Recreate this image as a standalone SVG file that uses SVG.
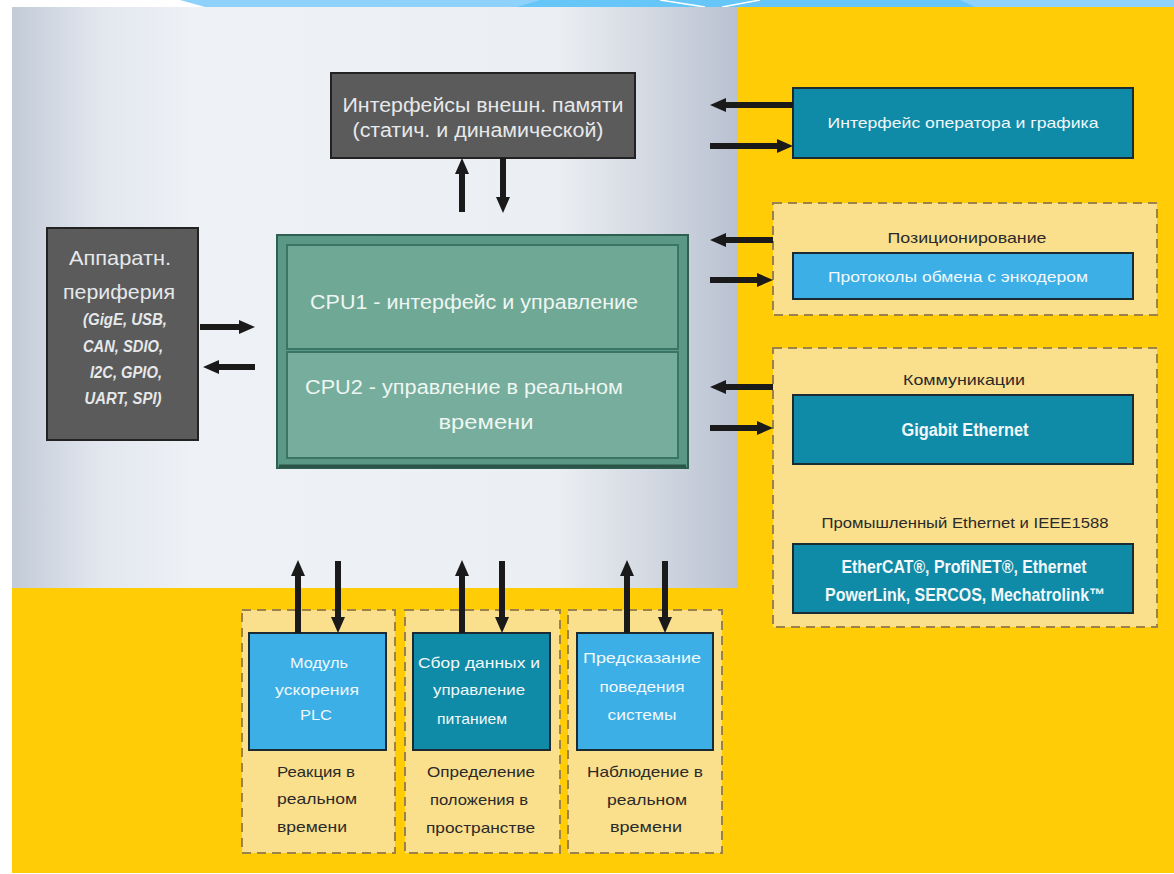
<svg xmlns="http://www.w3.org/2000/svg" width="1174" height="874" viewBox="0 0 1174 874">
<style>
text{font-family:"Liberation Sans","DejaVu Sans",sans-serif}
.lt{fill:#E6E8EA}
.wt{fill:#F2F8FB}
.dk{fill:#2A2A2A;font-size:15px}
.c{text-anchor:middle}
.gray{fill:#5B5B5B;stroke:#222;stroke-width:2}
.teal{fill:#0F8BA7;stroke:#1C2A33;stroke-width:2}
.sky{fill:#3BAFE6;stroke:#1C2A33;stroke-width:2}
.grp{fill:#FADF8C;stroke:#9A8248;stroke-width:2;stroke-dasharray:9 6}
.arr{stroke:#1A1A1A;stroke-width:6;fill:none;marker-end:url(#ah)}
.cpu{fill:#EEF6F2}
</style>
<defs>
<marker id="ah" markerUnits="userSpaceOnUse" markerWidth="16" markerHeight="16" viewBox="0 0 16 16" refX="6" refY="8" orient="auto">
<path d="M0,1 L16,8 L0,15 z" fill="#1A1A1A"/>
</marker>
<linearGradient id="bg" x1="0" y1="0" x2="1" y2="0">
<stop offset="0" stop-color="#C3CBD8"/>
<stop offset="0.12" stop-color="#E2E7EF"/>
<stop offset="0.25" stop-color="#EEF1F5"/>
<stop offset="0.75" stop-color="#EBEEF2"/>
<stop offset="0.88" stop-color="#D3D9E2"/>
<stop offset="1" stop-color="#B9C1D1"/>
</linearGradient>
</defs>

<g id="background">
<rect x="0" y="0" width="1174" height="874" fill="#FFFFFF"/>
<polygon points="180,0 1174,0 1174,7 205,7" fill="#8ED2FB"/>
<polygon points="540,0 960,0 975,7 517,7" fill="#66C6F8"/>
<polyline points="660,0 705,7" stroke="#FFFFFF" stroke-width="1.5" fill="none"/>
<polyline points="760,0 722,7" stroke="#FFFFFF" stroke-width="1.5" fill="none"/>
<rect x="12" y="7" width="1162" height="866" fill="#FFCC05"/>
<rect x="12" y="7" width="726" height="581" fill="url(#bg)"/>
</g>

<g id="mem">
<rect class="gray" x="331" y="73" width="304" height="85"/>
<text class="lt c" x="483" y="112" font-size="20" textLength="281" lengthAdjust="spacingAndGlyphs">Интерфейсы внешн. памяти</text>
<text class="lt c" x="478" y="137" font-size="20" textLength="251" lengthAdjust="spacingAndGlyphs">(статич. и динамической)</text>
</g>

<g id="periph">
<rect class="gray" x="47" y="228" width="151" height="212"/>
<text class="lt c" x="120" y="265" font-size="21" textLength="102" lengthAdjust="spacingAndGlyphs">Аппаратн.</text>
<text class="lt c" x="119" y="299" font-size="21" textLength="112" lengthAdjust="spacingAndGlyphs">периферия</text>
<g font-size="16" font-style="italic" font-weight="bold">
<text class="lt c" x="125" y="325" textLength="84" lengthAdjust="spacingAndGlyphs">(GigE, USB,</text>
<text class="lt c" x="123" y="352" textLength="80" lengthAdjust="spacingAndGlyphs">CAN, SDIO,</text>
<text class="lt c" x="126" y="378" textLength="72" lengthAdjust="spacingAndGlyphs">I2C, GPIO,</text>
<text class="lt c" x="123" y="404" textLength="77" lengthAdjust="spacingAndGlyphs">UART, SPI)</text>
</g>
</g>

<g id="cpu">
<rect x="277" y="235" width="411" height="233" fill="#5C9886" stroke="#2F5F50" stroke-width="2"/>
<rect x="287" y="245" width="391" height="104" fill="#70A896" stroke="#3A7462" stroke-width="2"/>
<rect x="287" y="352" width="391" height="106" fill="#76AD9C" stroke="#3A7462" stroke-width="2"/>
<line x1="279" y1="466" x2="686" y2="466" stroke="#2A5446" stroke-width="3"/>
<text class="c cpu" x="474" y="309" font-size="20" textLength="328" lengthAdjust="spacingAndGlyphs">CPU1 - интерфейс и управление</text>
<text class="c cpu" x="464" y="394" font-size="20" textLength="318" lengthAdjust="spacingAndGlyphs">CPU2 - управление в реальном</text>
<text class="c cpu" x="486" y="429" font-size="20" textLength="95" lengthAdjust="spacingAndGlyphs">времени</text>
</g>

<g id="operator">
<rect class="teal" x="793" y="88" width="340" height="70"/>
<text class="wt c" x="963" y="128" font-size="15" textLength="271" lengthAdjust="spacingAndGlyphs">Интерфейс оператора и графика</text>
</g>

<g id="positioning">
<rect class="grp" x="773" y="203" width="384" height="112"/>
<text class="dk c" x="967" y="243" textLength="159" lengthAdjust="spacingAndGlyphs">Позиционирование</text>
<rect class="sky" x="793" y="253" width="340" height="46"/>
<text class="wt c" x="958" y="282" font-size="15" textLength="260" lengthAdjust="spacingAndGlyphs">Протоколы обмена с энкодером</text>
</g>

<g id="comm">
<rect class="grp" x="773" y="348" width="384" height="279"/>
<text class="dk c" x="964" y="385" textLength="122" lengthAdjust="spacingAndGlyphs">Коммуникации</text>
<rect class="teal" x="793" y="395" width="340" height="69"/>
<text class="wt c" x="965" y="436" font-size="18" font-weight="bold" textLength="127" lengthAdjust="spacingAndGlyphs">Gigabit Ethernet</text>
<text class="dk c" x="965" y="528" textLength="287" lengthAdjust="spacingAndGlyphs">Промышленный Ethernet и IEEE1588</text>
<rect class="teal" x="793" y="544" width="340" height="69"/>
<text class="wt c" x="964" y="573" font-size="18" font-weight="bold" textLength="245" lengthAdjust="spacingAndGlyphs">EtherCAT®, ProfiNET®, Ethernet</text>
<text class="wt c" x="965" y="601" font-size="18" font-weight="bold" textLength="280" lengthAdjust="spacingAndGlyphs">PowerLink, SERCOS, Mechatrolink™</text>
</g>

<g id="plc">
<rect class="grp" x="242" y="610" width="153" height="243"/>
<rect class="sky" x="249" y="633" width="137" height="117"/>
<text class="wt c" x="319" y="668" font-size="15" textLength="58" lengthAdjust="spacingAndGlyphs">Модуль</text>
<text class="wt c" x="317" y="695" font-size="15" textLength="84" lengthAdjust="spacingAndGlyphs">ускорения</text>
<text class="wt c" x="316" y="720" font-size="15" textLength="32" lengthAdjust="spacingAndGlyphs">PLC</text>
<text class="dk" x="277" y="777" textLength="78" lengthAdjust="spacingAndGlyphs">Реакция в</text>
<text class="dk" x="277" y="804" textLength="80" lengthAdjust="spacingAndGlyphs">реальном</text>
<text class="dk" x="277" y="832" textLength="70" lengthAdjust="spacingAndGlyphs">времени</text>
</g>

<g id="power">
<rect class="grp" x="405" y="610" width="155" height="243"/>
<rect class="teal" x="413" y="633" width="137" height="117"/>
<text class="wt c" x="479" y="668" font-size="15" textLength="122" lengthAdjust="spacingAndGlyphs">Сбор данных и</text>
<text class="wt c" x="479" y="695" font-size="15" textLength="92" lengthAdjust="spacingAndGlyphs">управление</text>
<text class="wt c" x="472" y="724" font-size="15" textLength="70" lengthAdjust="spacingAndGlyphs">питанием</text>
<text class="dk" x="427" y="777" textLength="108" lengthAdjust="spacingAndGlyphs">Определение</text>
<text class="dk" x="430" y="805" textLength="98" lengthAdjust="spacingAndGlyphs">положения в</text>
<text class="dk" x="426" y="833" textLength="109" lengthAdjust="spacingAndGlyphs">пространстве</text>
</g>

<g id="predict">
<rect class="grp" x="568" y="610" width="154" height="243"/>
<rect class="sky" x="577" y="633" width="136" height="117"/>
<text class="wt c" x="642" y="663" font-size="15" textLength="118" lengthAdjust="spacingAndGlyphs">Предсказание</text>
<text class="wt c" x="642" y="692" font-size="15" textLength="85" lengthAdjust="spacingAndGlyphs">поведения</text>
<text class="wt c" x="642" y="720" font-size="15" textLength="69" lengthAdjust="spacingAndGlyphs">системы</text>
<text class="dk" x="587" y="777" textLength="116" lengthAdjust="spacingAndGlyphs">Наблюдение в</text>
<text class="dk" x="607" y="805" textLength="80" lengthAdjust="spacingAndGlyphs">реальном</text>
<text class="dk" x="610" y="832" textLength="72" lengthAdjust="spacingAndGlyphs">времени</text>
</g>

<g id="connectors">
<line class="arr" x1="462" y1="212" x2="462" y2="168"/>
<line class="arr" x1="503" y1="158" x2="503" y2="203"/>
<line class="arr" x1="200" y1="327" x2="245" y2="327"/>
<line class="arr" x1="255" y1="367" x2="213" y2="367"/>
<line class="arr" x1="793" y1="105" x2="720" y2="105"/>
<line class="arr" x1="710" y1="146" x2="783" y2="146"/>
<line class="arr" x1="773" y1="240" x2="720" y2="240"/>
<line class="arr" x1="710" y1="280" x2="763" y2="280"/>
<line class="arr" x1="773" y1="387" x2="720" y2="387"/>
<line class="arr" x1="710" y1="428" x2="763" y2="428"/>
<line class="arr" x1="298" y1="633" x2="298" y2="570"/>
<line class="arr" x1="338" y1="561" x2="338" y2="623"/>
<line class="arr" x1="462" y1="633" x2="462" y2="570"/>
<line class="arr" x1="502" y1="561" x2="502" y2="623"/>
<line class="arr" x1="627" y1="633" x2="627" y2="570"/>
<line class="arr" x1="665" y1="561" x2="665" y2="623"/>
</g>
</svg>
